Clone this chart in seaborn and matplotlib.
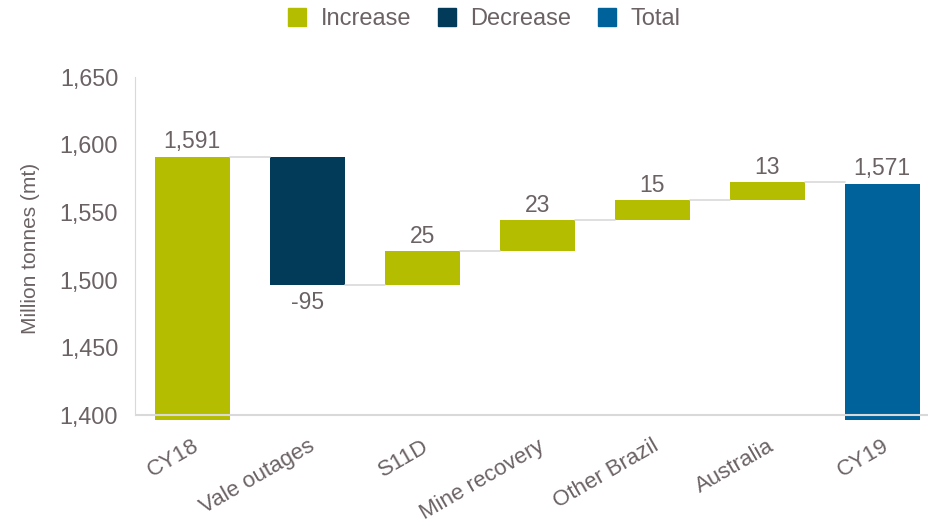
import numpy as np
import matplotlib
matplotlib.use("Agg")
import matplotlib.pyplot as plt
import seaborn as sns
from matplotlib.lines import Line2D

# data
categories = ["CY18", "Vale outages", "S11D", "Mine recovery", "Other Brazil", "Australia", "CY19"]
values = [1591, -95, 25, 23, 15, 13, 1571]
kinds = ["Increase", "Decrease", "Increase", "Increase", "Increase", "Increase", "Total"]
value_labels = ["1,591", "-95", "25", "23", "15", "13", "1,571"]
yticks = [1400, 1450, 1500, 1550, 1600, 1650]

colors = {"Increase": "#b5bd00", "Decrease": "#023a5a", "Total": "#00629b"}
text_color = "#6b6264"
line_color = "#d9d9d9"

sns.set_style("white")
plt.rcParams["font.family"] = ["Liberation Sans", "DejaVu Sans"]

# waterfall geometry
bottoms, heights, tops = [], [], []
running = 0
for i, v in enumerate(values):
    if i == 0 or i == len(values) - 1:
        bottoms.append(0)
        heights.append(v)
        running = v
    else:
        start = running
        running = running + v
        bottoms.append(min(start, running))
        heights.append(abs(v))
    tops.append(bottoms[-1] + heights[-1])

fig = plt.figure(figsize=(9.3, 5.27), dpi=100)
ax = fig.add_axes([0.145, 0.2023, 0.853, 0.652])

bar_colors = [colors[k] for k in kinds]
sns.barplot(x=categories, y=heights, hue=categories, palette=bar_colors,
            legend=False, width=0.65, saturation=1, ax=ax)

for patch, b in zip(ax.patches, bottoms):
    patch.set_y(b)
    patch.set_linewidth(0)

ax.set_ylim(1396, 1650)
ax.set_xlim(-0.5, 6.4)
ax.set_yticks(yticks)
ax.set_yticklabels([f"{t:,}" for t in yticks])

# connectors
patches = ax.patches
level = values[0]
for i in range(len(patches) - 1):
    if i > 0:
        level = level + values[i]
    x0 = patches[i].get_x() + patches[i].get_width()
    x1 = patches[i + 1].get_x()
    ax.plot([x0, x1], [level, level], color=line_color, lw=1.2, zorder=1)

# value labels
for i, (p, lab) in enumerate(zip(patches, value_labels)):
    cx = p.get_x() + p.get_width() / 2
    if kinds[i] == "Decrease":
        ax.text(cx, bottoms[i] - 4, lab, ha="center", va="top", fontsize=16.5, color=text_color)
    else:
        ax.text(cx, tops[i] + 2.5, lab, ha="center", va="bottom", fontsize=16.5, color=text_color)

# axes styling
ax.axhline(1400, color=line_color, lw=1.5, zorder=5)
for s in ["top", "right", "bottom"]:
    ax.spines[s].set_visible(False)
ax.spines["left"].set_color(line_color)
ax.spines["left"].set_bounds(1400, 1650)
ax.tick_params(axis="both", length=0, colors=text_color)
ax.tick_params(axis="y", pad=12, labelsize=16.8)
ax.tick_params(axis="x", pad=11, labelsize=16)
plt.setp(ax.get_xticklabels(), rotation=30, ha="right", rotation_mode="anchor")
ax.set_ylabel("Million tonnes (mt)", fontsize=15, color=text_color, labelpad=14)
ax.set_xlabel("")

handles = [Line2D([0], [0], marker="s", linestyle="", markersize=13,
                  markerfacecolor=colors[k], markeredgecolor=colors[k]) for k in ["Increase", "Decrease", "Total"]]
leg = fig.legend(handles, ["Increase", "Decrease", "Total"], loc="center", bbox_to_anchor=(0.519, 0.963),
                 ncol=3, frameon=False, fontsize=17, handlelength=1.0, handletextpad=0.5, columnspacing=1.0)
for t in leg.get_texts():
    t.set_color(text_color)

fig.savefig("out.png", dpi=100)
